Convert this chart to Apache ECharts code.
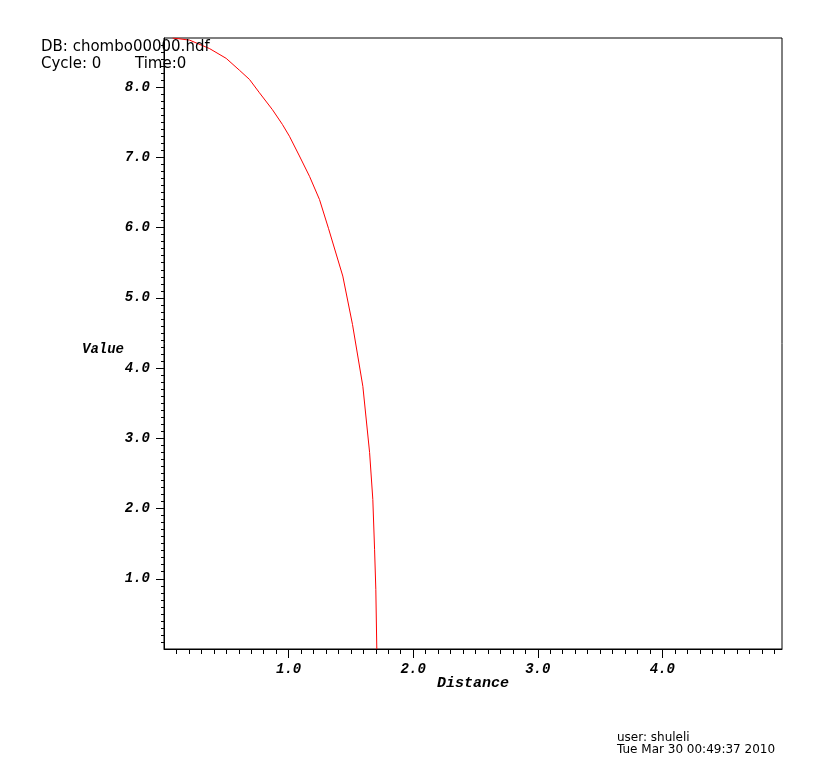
<!DOCTYPE html>
<html>
<head>
<meta charset="utf-8">
<script src="https://cdn.jsdelivr.net/npm/echarts@6/dist/echarts.min.js"></script>
<style>html,body{margin:0;padding:0;background:#fff;}#c{width:824px;height:765px;}</style>
</head>
<body>
<div id="c"></div>
<script>
// Data
var distance = [0.069, 0.205, 0.365, 0.499, 0.606, 0.686, 0.766, 0.87, 0.95, 1.007, 1.087, 1.168, 1.248, 1.32, 1.435, 1.513, 1.596, 1.650, 1.676, 1.690, 1.700, 1.708];
var value    = [8.70, 8.67, 8.55, 8.41, 8.24, 8.11, 7.92, 7.68, 7.47, 7.30, 7.02, 6.73, 6.40, 5.99, 5.31, 4.62, 3.74, 2.80, 2.13, 1.42, 0.85, 0.00];
var xTickLabels = [1, 2, 3, 4];
var yTickLabels = [1, 2, 3, 4, 5, 6, 7, 8];
var xMax = 4.96, yMax = 8.7;
var xName = 'Distance', yName = 'Value';
var headerLine1 = 'DB: chombo00000.hdf';
var headerCycle = 'Cycle: 0';
var headerTime = 'Time:0';
var footerLines = ['user: shuleli', 'Tue Mar 30 00:49:37 2010'];

function minorTicks(maxV) {
  var out = [];
  for (var i = 1; i / 10 < maxV - 1e-9; i++) out.push(i / 10);
  return out;
}
var seriesData = distance.map(function (d, i) { return [d, value[i]]; });
var labelFont = { fontFamily: 'Liberation Mono', fontWeight: 'bold', fontStyle: 'italic', fontSize: 14, color: '#000' };

var chart = echarts.init(document.getElementById('c'), null, { renderer: 'canvas' });
chart.setOption({
  backgroundColor: '#fff',
  animation: false,
  grid: { left: 164, right: 42, top: 38, bottom: 116, show: true, borderColor: '#000', borderWidth: 1 },
  xAxis: [{
    type: 'value', min: 0, max: xMax, position: 'bottom',
    axisLine: { show: true, lineStyle: { color: '#000' } },
    axisTick: { show: true, length: 9, customValues: xTickLabels, lineStyle: { color: '#000' } },
    axisLabel: Object.assign({ margin: 13, customValues: xTickLabels, formatter: function (v) { return v.toFixed(1); } }, labelFont),
    splitLine: { show: false }
  }, {
    type: 'value', min: 0, max: xMax, position: 'bottom', gridIndex: 0,
    axisLine: { show: false },
    axisTick: { show: true, length: 5, customValues: minorTicks(xMax), lineStyle: { color: '#000' } },
    axisLabel: { show: false },
    splitLine: { show: false }
  }],
  yAxis: [{
    type: 'value', min: 0, max: yMax, position: 'left',
    axisLine: { show: true, lineStyle: { color: '#000' } },
    axisTick: { show: true, length: 8, customValues: yTickLabels, lineStyle: { color: '#000' } },
    axisLabel: Object.assign({ margin: 14, customValues: yTickLabels, formatter: function (v) { return v.toFixed(1); } }, labelFont),
    splitLine: { show: false }
  }, {
    type: 'value', min: 0, max: yMax, position: 'left', gridIndex: 0,
    axisLine: { show: false },
    axisTick: { show: true, length: 3, customValues: minorTicks(yMax), lineStyle: { color: '#000' } },
    axisLabel: { show: false },
    splitLine: { show: false }
  }],
  series: [{
    type: 'line', xAxisIndex: 0, yAxisIndex: 0, data: seriesData,
    showSymbol: false, symbol: 'none', smooth: false,
    lineStyle: { color: '#ff0000', width: 1 }, z: 3
  }],
  graphic: [
    { type: 'text', x: 124, y: 349, style: { text: yName, font: 'italic bold 14px "Liberation Mono"', fill: '#000', align: 'right', verticalAlign: 'middle' }, z: 10 },
    { type: 'text', x: 473, y: 683, style: { text: xName, font: 'italic bold 15px "Liberation Mono"', fill: '#000', align: 'center', verticalAlign: 'middle' }, z: 10 },
    { type: 'text', left: 41, top: 40, style: { text: headerLine1, font: '15px "DejaVu Sans"', fill: '#000' }, z: 10 },
    { type: 'text', left: 41, top: 57, style: { text: headerCycle, font: '15px "DejaVu Sans"', fill: '#000' }, z: 10 },
    { type: 'text', left: 135, top: 57, style: { text: headerTime, font: '15px "DejaVu Sans"', fill: '#000' }, z: 10 },
    { type: 'text', left: 617, top: 732, style: { text: footerLines[0], font: '12px "DejaVu Sans"', fill: '#000' }, z: 10 },
    { type: 'text', left: 617, top: 744, style: { text: footerLines[1], font: '12px "DejaVu Sans"', fill: '#000' }, z: 10 }
  ]
});
</script>
</body>
</html>
